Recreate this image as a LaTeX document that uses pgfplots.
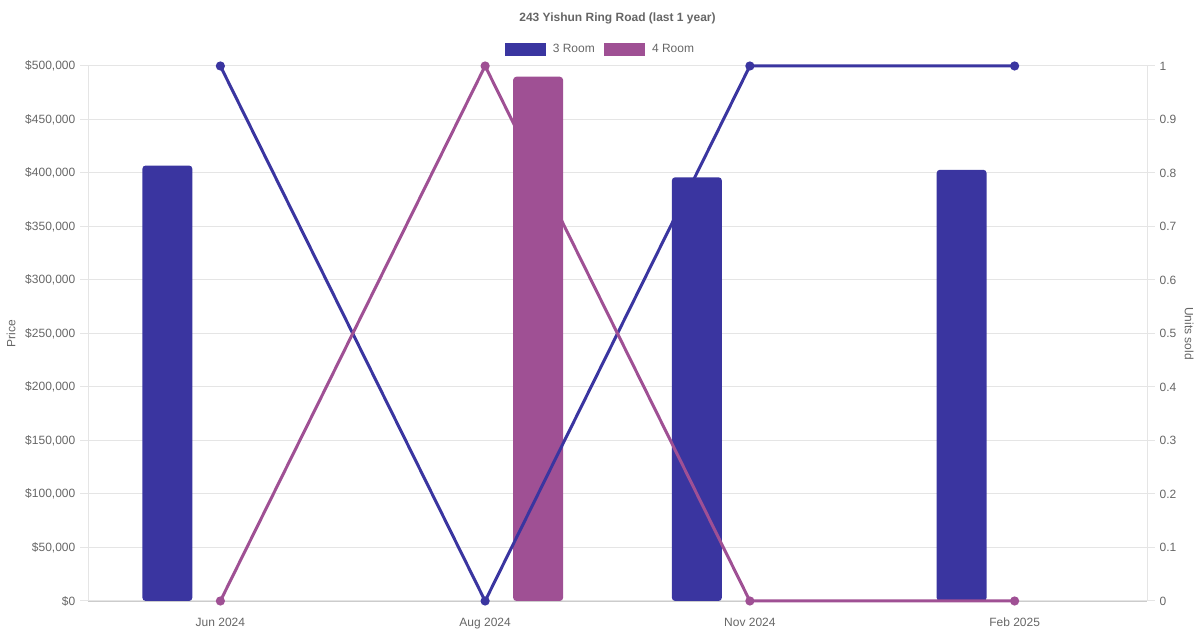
\documentclass[border=0pt]{standalone}
\usepackage{fontspec}
\setmainfont{Liberation Sans}
\usepackage{pgfplots}
\pgfplotsset{compat=1.18}
\definecolor{c3}{RGB}{58,53,160}
\definecolor{c4}{RGB}{159,80,148}
\definecolor{txt}{RGB}{102,102,102}
\definecolor{gridc}{RGB}{229,229,229}
\definecolor{basec}{RGB}{204,204,204}

\pgfplotsset{
  common/.style={
    width=794.25pt, height=401.25pt, scale only axis,
    at={(0,0)}, anchor=south west,
    xmin=-0.5, xmax=3.5,
    font=\fontsize{9}{11}\selectfont,
    tick label style={text=txt},
    label style={text=txt},
    /pgf/number format/assume math mode=true,
    tick align=outside, major tick length=6pt,
    scaled y ticks=false,
    clip=false,
  }
}

\begin{document}
\begin{tikzpicture}
\path[use as bounding box] (-66pt,-21.75pt) rectangle (834pt,450.75pt);

% left axis: prices as bars
\begin{axis}[common,
    ymin=0, ymax=500000,
    axis x line*=bottom, axis y line*=left,
    x axis line style={draw=basec, -},
    y axis line style={draw=gridc, -},
    xtick={0,1,2,3},
    xticklabels={Jun 2024,Aug 2024,Nov 2024,Feb 2025},
    x tick style={draw=none},
    xticklabel style={yshift=-3pt},
    ytick={0,50000,...,500000},
    yticklabels={\$0,{\$50,000},{\$100,000},{\$150,000},{\$200,000},{\$250,000},{\$300,000},{\$350,000},{\$400,000},{\$450,000},{\$500,000}},
    y tick style={draw=gridc, line width=0.75pt},
    ymajorgrids, grid style={draw=gridc, line width=0.75pt},
    ylabel={Price},
    ylabel style={at={(axis description cs:-0.0727,0.5)}, anchor=center},
    title={\bfseries 243 Yishun Ring Road (last 1 year)},
    title style={at={(axis description cs:0.5,1)}, anchor=center, yshift=30pt, text=txt},
    ybar, bar width=37.5pt,
  ]
\addplot[fill=c3, draw=none, bar shift=-39.75pt, rounded corners=2.5pt] coordinates {(0,407000) (2,396000) (3,403000)};
\addplot[fill=c4, draw=none, bar shift=39.75pt, rounded corners=2.5pt] coordinates {(1,490000)};
\end{axis}

% right axis: units sold as lines
\begin{axis}[common,
    ymin=0, ymax=1,
    axis x line=none, axis y line*=right,
    y axis line style={draw=gridc, -},
    ytick={0,0.1,...,1},
    yticklabels={0,0.1,0.2,0.3,0.4,0.5,0.6,0.7,0.8,0.9,1},
    y tick style={draw=gridc, line width=0.75pt},
    ylabel={Units sold},
    ylabel style={at={(axis description cs:1.0397,0.5)}, anchor=center, rotate=180},
    legend style={at={(axis description cs:0.5,1)}, anchor=center, yshift=12.5pt, xshift=-12.5pt,
      draw=none, fill=none, text=txt, font=\fontsize{9}{11}\selectfont,
      legend columns=2,
      /tikz/every odd column/.append style={column sep=3.5pt},
      /tikz/every even column/.append style={column sep=5pt}},
  ]
\addlegendimage{legend image code/.code={\fill[c3] (0pt,-4.5pt) rectangle (30pt,4.5pt);}}
\addlegendentry{3 Room}
\addlegendimage{legend image code/.code={\fill[c4] (0pt,-4.5pt) rectangle (30pt,4.5pt);}}
\addlegendentry{4 Room}
\addplot[forget plot, c3, line width=2.25pt, mark=*, mark size=2.25pt] coordinates {(0,1) (1,0) (2,1) (3,1)};
\addplot[forget plot, c4, line width=2.25pt, mark=*, mark size=2.25pt] coordinates {(0,0) (1,1) (2,0) (3,0)};
\end{axis}
\end{tikzpicture}
\end{document}
